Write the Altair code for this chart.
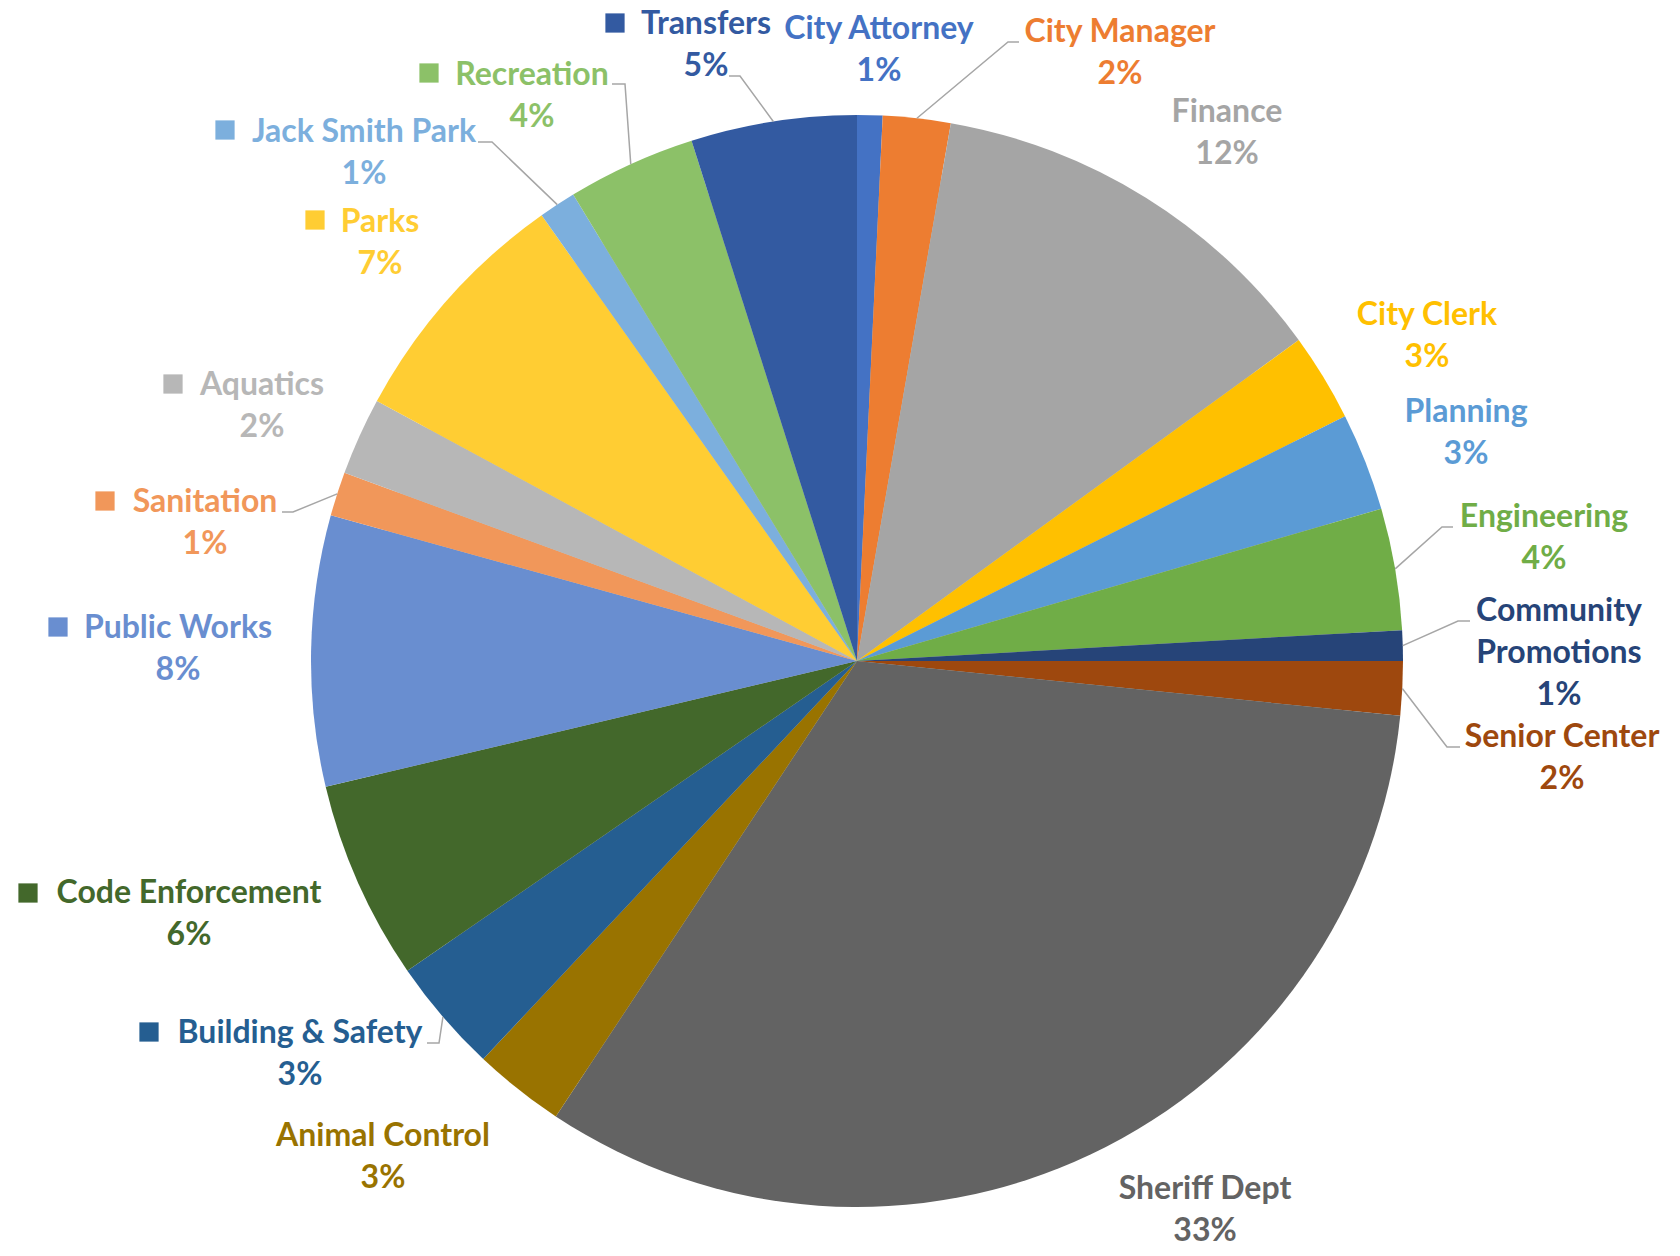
import math
import altair as alt
import pandas as pd

# ---------------- data ----------------
DEPARTMENTS = ["City Attorney", "City Manager", "Finance", "City Clerk", "Planning",
               "Engineering", "Community Promotions", "Senior Center", "Sheriff Dept",
               "Animal Control", "Building & Safety", "Code Enforcement", "Public Works",
               "Sanitation", "Aquatics", "Parks", "Jack Smith Park", "Recreation", "Transfers"]
SHARES = [0.75, 2.0, 12.25, 2.6, 2.9, 3.6, 0.9, 1.6, 32.7, 2.7, 3.4, 5.9, 8.0,
          1.3, 2.3, 7.3, 1.1, 3.8, 4.9]
COLORS = ["#4472C4", "#ED7D31", "#A5A5A5", "#FFC000", "#5B9BD5", "#70AD47",
          "#264478", "#9E480E", "#636363", "#997300", "#255E91", "#43682B",
          "#698ED0", "#F1975A", "#B7B7B7", "#FFCD33", "#7CAFDD", "#8CC168", "#335AA1"]
NAME_LINES = {"Community Promotions": ["Community", "Promotions"]}

# ---------------- layout (page pixels) ----------------
M = 8
W, H = 1680 - 2 * M, 1256 - 2 * M
CX, CY, R = 857 - M, 661 - M, 546
FONT, FS, LH = "Lato", 32, 42
# label anchor: centre x and first baseline y
LABEL_POS = {
    "Transfers": (706, 34), "City Attorney": (879, 39), "City Manager": (1120, 42),
    "Finance": (1227, 122), "City Clerk": (1427, 325), "Planning": (1466, 422),
    "Engineering": (1544, 527), "Community Promotions": (1559, 621),
    "Senior Center": (1562, 747), "Sheriff Dept": (1205, 1199),
    "Animal Control": (383, 1146), "Building & Safety": (300, 1043),
    "Code Enforcement": (189, 903), "Public Works": (178, 638),
    "Sanitation": (205, 512), "Aquatics": (262, 395), "Parks": (380, 232),
    "Jack Smith Park": (364, 142), "Recreation": (532, 85),
}
KEY_POS = {
    "Transfers": (615, 23), "Recreation": (429, 73), "Jack Smith Park": (225, 130),
    "Parks": (315, 220), "Aquatics": (173, 384), "Sanitation": (105, 501),
    "Public Works": (58, 627), "Code Enforcement": (28, 893),
    "Building & Safety": (149, 1032),
}
LEADERS = {  # elbow, end (the start is the slice's mid-angle on the rim)
    "Transfers": [(740, 76), (729, 76)],
    "City Manager": [(1008, 42), (1019, 42)],
    "Recreation": [(625, 84), (612, 84)],
    "Jack Smith Park": [(492, 142), (478, 142)],
    "Sanitation": [(293, 512), (282, 512)],
    "Building & Safety": [(439, 1043), (427, 1043)],
    "Engineering": [(1442, 527), (1453, 527)],
    "Community Promotions": [(1458, 621), (1470, 621)],
    "Senior Center": [(1447, 747), (1460, 747)],
}

total = sum(SHARES)
df = pd.DataFrame({"idx": range(len(DEPARTMENTS)), "dept": DEPARTMENTS,
                   "share": SHARES, "col": COLORS})

# mid angles of the slices (clockwise from 12 o'clock)
mid = {}
acc = 0.0
for d, s in zip(DEPARTMENTS, SHARES):
    mid[d] = (acc + s / 2) / total * 2 * math.pi
    acc += s

# text rows
rows = []
for d, s, c in zip(DEPARTMENTS, SHARES, COLORS):
    x, y = LABEL_POS[d]
    lines = NAME_LINES.get(d, [d]) + [f"{round(s / total * 100)}%"]
    for i, t in enumerate(lines):
        rows.append({"x": x - M, "y": y - M + i * LH, "text": t, "col": c})
df_text = pd.DataFrame(rows)

df_keys = pd.DataFrame([{"x": KEY_POS[d][0] - M, "y": KEY_POS[d][1] - M,
                         "col": COLORS[DEPARTMENTS.index(d)]} for d in KEY_POS])

lrows = []
for d, pts in LEADERS.items():
    a = mid[d]
    sx, sy = CX + R * math.sin(a), CY - R * math.cos(a)
    seq = [(sx, sy)] + [(px - M, py - M) for px, py in pts]
    for k, (px, py) in enumerate(seq):
        lrows.append({"dept": d, "k": k, "x": px, "y": py})
df_lead = pd.DataFrame(lrows)

df_shadow = pd.DataFrame({"s": [math.pi * (R + r) ** 2 for r in range(1, 15)]})

xs = dict(scale=None, axis=None)

shadow = alt.Chart(df_shadow).mark_circle(color="black", opacity=0.017).encode(
    x=alt.value(CX), y=alt.value(CY),
    size=alt.Size("s:Q", scale=None, legend=None))

pie = alt.Chart(df).mark_arc(outerRadius=R).encode(
    theta=alt.Theta("share:Q", stack=True),
    color=alt.Color("col:N", scale=None, legend=None),
    order=alt.Order("idx:Q", sort="ascending"),
    x=alt.value(CX), y=alt.value(CY))

leaders = alt.Chart(df_lead).mark_line(color="#A6A6A6", strokeWidth=1.5).encode(
    x=alt.X("x:Q", **xs), y=alt.Y("y:Q", **xs),
    detail="dept:N", order="k:Q")

keys = alt.Chart(df_keys).mark_square(size=370, opacity=1, filled=True).encode(
    x=alt.X("x:Q", **xs), y=alt.Y("y:Q", **xs),
    color=alt.Color("col:N", scale=None, legend=None))

texts = alt.Chart(df_text).mark_text(font=FONT, fontWeight="bold", fontSize=FS,
                                     align="center", baseline="alphabetic").encode(
    x=alt.X("x:Q", **xs), y=alt.Y("y:Q", **xs), text="text:N",
    color=alt.Color("col:N", scale=None, legend=None))

chart = alt.layer(shadow, pie, leaders, keys, texts).properties(
    width=W, height=H, autosize=alt.AutoSizeParams(type="none"), padding=0,
    background="white"
).configure_view(stroke=None)

chart.save("out.html", embed_options={"renderer": "svg", "actions": False})
